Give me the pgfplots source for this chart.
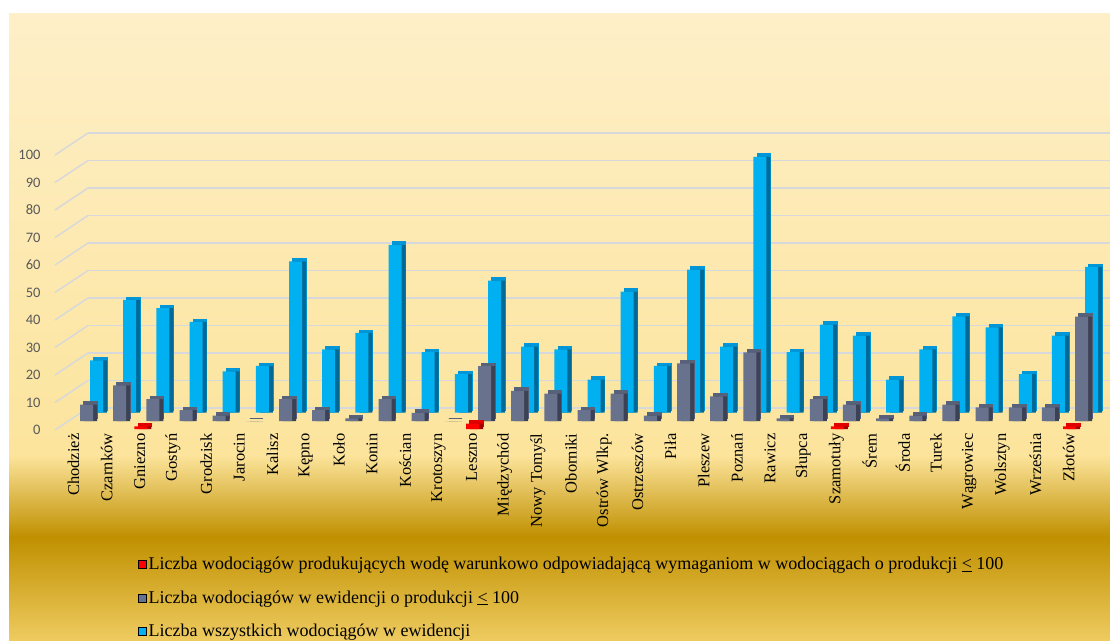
\documentclass[border=0pt]{standalone}
\usepackage{fontspec}
\setmainfont{Liberation Serif}
\newfontfamily\carlito{Carlito}
\usepackage{pgfplots}
\usepackage{pgfplotstable}
\pgfplotsset{compat=1.18}
\definecolor{bgtop}{RGB}{254,239,200}
\definecolor{bgmid}{RGB}{252,228,156}
\definecolor{bgdark}{RGB}{192,144,0}
\definecolor{bgbot}{RGB}{238,203,96}
\definecolor{gridc}{RGB}{214,216,220}
\definecolor{tickgray}{RGB}{89,89,89}
\definecolor{cyanF}{RGB}{0,176,240}
\definecolor{cyanT}{RGB}{0,150,215}
\definecolor{cyanS}{RGB}{0,105,150}
\definecolor{grayF}{RGB}{104,114,140}
\definecolor{grayT}{RGB}{88,97,122}
\definecolor{grayS}{RGB}{60,66,86}
\definecolor{redF}{RGB}{255,0,0}
\definecolor{redT}{RGB}{225,0,0}
\definecolor{redS}{RGB}{165,0,0}

\pgfplotstableread{
i g c
0 6 19
1 13 41
2 8 38
3 4 33
4 2 15
5 0 17
6 8 55
7 4 23
8 1 29
9 8 61
10 3 22
11 0 14
12 20 48
13 11 24
14 10 23
15 4 12
16 10 44
17 2 17
18 21 52
19 9 24
20 25 93
21 1 22
22 8 32
23 6 28
24 1 12
25 2 23
26 6 35
27 5 31
28 5 14
29 5 28
30 38 53
}\data

\begin{document}
\begin{tikzpicture}
\useasboundingbox (0,0) rectangle (1110pt,640pt);
\fill[white] (0,0) rectangle (1110pt,640pt);
\shade[top color=bgtop, bottom color=bgmid] (9pt,184.8pt) rectangle (1110pt,626pt);
\shade[top color=bgmid, bottom color=bgdark] (9pt,102.8pt) rectangle (1110pt,185pt);
\shade[top color=bgdark, bottom color=bgbot] (9pt,0pt) rectangle (1110pt,103pt);
\begin{axis}[
  at={(55pt,210pt)}, anchor=south west,
  scale only axis, width=1046.5pt, height=275pt,
  xmin=-0.95, xmax=30.6, ymin=0, ymax=100,
  clip=false,
  axis line style={draw=none},
  major tick length=0pt,
  ytick={0,10,...,100},
  ymajorgrids,
  major grid style={draw=gridc, line width=1.5pt, xshift=33pt, yshift=22pt},
  xtick={0,...,30},
  xticklabels={Chodzież,Czarnków,Gniezno,Gostyń,Grodzisk,Jarocin,Kalisz,Kępno,Koło,Konin,Kościan,Krotoszyn,Leszno,Międzychód,Nowy Tomyśl,Oborniki,Ostrów Wlkp.,Ostrzeszów,Piła,Pleszew,Poznań,Rawicz,Słupca,Szamotuły,Śrem,Środa,Turek,Wągrowiec,Wolsztyn,Września,Złotów},
  xticklabel style={xshift=-13pt, rotate=90, anchor=east, font=\fontsize{16.5}{16.5}\selectfont, text=black},
  yticklabel style={font=\carlito\fontsize{14.5}{15}\selectfont, text=tickgray, xshift=-11pt},
  /pgf/number format/assume math mode=true,
  legend style={at={(0.0793,-0.4545)}, anchor=north west, draw=none, fill=none,
    font=\fontsize{18}{20}\selectfont, row sep=15.5pt, inner sep=0pt},
  legend cell align=left,
  legend image code/.code={\fill[#1] (0pt,-4pt) rectangle (8pt,4pt);},
]
\pgfplotsinvokeforeach{0,10,...,100}{
  \draw[gridc, line width=1.5pt] (axis cs:-0.95,#1) -- ([xshift=33pt,yshift=22pt]axis cs:-0.95,#1);
}
\addlegendimage{fill=redF}
\addlegendentry{Liczba wodociągów produkujących wodę warunkowo odpowiadającą wymaganiom w wodociągach o produkcji \underline{<} 100}
\addlegendimage{fill=grayF}
\addlegendentry{Liczba wodociągów w ewidencji o produkcji \underline{<} 100}
\addlegendimage{fill=cyanF}
\addlegendentry{Liczba wszystkich wodociągów w ewidencji}

% cyan (back row)
\addplot[ybar, forget plot, bar width=13pt, bar shift=14pt, yshift=20pt, fill=cyanT, draw=cyanT, line width=1.5pt] table[x=i,y=c]{\data};
\addplot[ybar, forget plot, bar width=13pt, bar shift=14pt, yshift=17.3pt, fill=cyanS, draw=none] table[x=i,y=c]{\data};
\addplot[ybar, forget plot, bar width=13pt, bar shift=10pt, yshift=17.3pt, fill=cyanF, draw=none] table[x=i,y=c]{\data};
% gray (middle row)
\addplot[ybar, forget plot, bar width=13pt, bar shift=4pt, yshift=11.7pt, fill=grayT, draw=grayT, line width=1.5pt] table[x=i,y=g]{\data};
\addplot[ybar, forget plot, bar width=13pt, bar shift=4pt, yshift=9pt, fill=grayS, draw=none] table[x=i,y=g]{\data};
\addplot[ybar, forget plot, bar width=13pt, bar shift=0pt, yshift=9pt, fill=grayF, draw=none] table[x=i,y=g]{\data};
% red (front row)
\addplot[ybar, forget plot, bar width=13pt, bar shift=-8pt, yshift=3.7pt, fill=redT, draw=redT, line width=1.5pt] coordinates {(2,1) (12,2) (23,1) (30,1)};
\addplot[ybar, forget plot, bar width=13pt, bar shift=-8pt, yshift=1pt, fill=redS, draw=none] coordinates {(2,1) (12,2) (23,1) (30,1)};
\addplot[ybar, forget plot, bar width=13pt, bar shift=-12pt, yshift=1pt, fill=redF, draw=none] coordinates {(2,1) (12,2) (23,1) (30,1)};
\end{axis}
\end{tikzpicture}
\end{document}
